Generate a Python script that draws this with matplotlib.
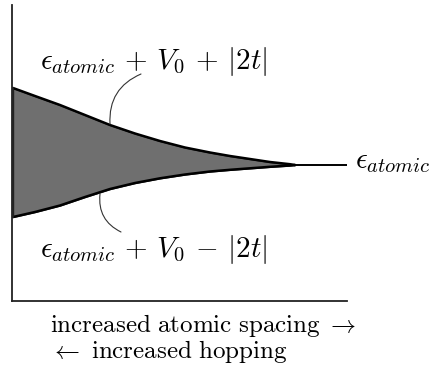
import matplotlib
matplotlib.use("Agg")
import matplotlib.pyplot as plt

plt.rcParams['mathtext.fontset'] = 'cm'

# (x: distance along axis, y: energy, arbitrary units)
x_vals = [1, 23, 48, 73, 98, 123, 148, 173, 198, 218, 238, 258, 278, 283]
upper_vals = [213, 205, 196, 186, 176, 167.5, 160, 153.5, 148.5, 145, 142, 139, 136.8, 136]
lower_vals = [84, 89, 95.5, 104, 112, 118, 122.7, 126.5, 129.5, 131.2, 132.7, 134.2, 135.5, 136]
eps_level = 136
eps_x = [283, 335]

upper_label = r'$\epsilon_{atomic}\,+\,V_0\,+\,|2t|$'
lower_label = r'$\epsilon_{atomic}\,+\,V_0\,-\,|2t|$'
right_label = r'$\epsilon_{atomic}$'
xlabel1 = r'$\mathrm{increased\ atomic\ spacing}\ \rightarrow$'
xlabel2 = r'$\leftarrow\ \mathrm{increased\ hopping}$'

W, H = 448, 372
fig = plt.figure(figsize=(W / 100, H / 100), dpi=100)
ax = fig.add_axes([12 / W, 71 / H, 335 / W, 296 / H])
ax.set_xlim(0, 335)
ax.set_ylim(0, 296)
for s in ['top', 'right']:
    ax.spines[s].set_visible(False)
for s in ['left', 'bottom']:
    ax.spines[s].set_linewidth(1.3)
    ax.spines[s].set_color('#222222')
ax.set_xticks([])
ax.set_yticks([])

ax.fill_between(x_vals, lower_vals, upper_vals, facecolor='#6f6f6f',
                edgecolor='#222222', linewidth=1.0)
ax.plot(x_vals, upper_vals, color='black', lw=1.8, solid_capstyle='round',
        solid_joinstyle='round')
ax.plot(x_vals, lower_vals, color='black', lw=1.8, solid_capstyle='round',
        solid_joinstyle='round')
ax.plot([x_vals[0], x_vals[0]], [lower_vals[0], upper_vals[0]], color='#222222', lw=1.2)
ax.plot(eps_x, [eps_level, eps_level], color='black', lw=1.4)

ax.annotate('', xy=(98, 177), xytext=(129, 227),
            arrowprops=dict(arrowstyle='-', connectionstyle='arc3,rad=0.35',
                            lw=0.8, color='#333333', shrinkA=0, shrinkB=0),
            annotation_clip=False)
ax.annotate('', xy=(88, 107), xytext=(109, 69),
            arrowprops=dict(arrowstyle='-', connectionstyle='arc3,rad=-0.35',
                            lw=0.8, color='#333333', shrinkA=0, shrinkB=0),
            annotation_clip=False)

fs = 21
fig.text(40 / W, 1 - 69 / H, upper_label, fontsize=fs, ha='left', va='baseline')
fig.text(40 / W, 1 - 257 / H, lower_label, fontsize=fs, ha='left', va='baseline')
fig.text(355 / W, 1 - 168 / H, right_label, fontsize=fs, ha='left', va='baseline')
fig.text(50 / W, 1 - 332 / H, xlabel1, fontsize=18, ha='left', va='baseline')
fig.text(50 / W, 1 - 358 / H, xlabel2, fontsize=18, ha='left', va='baseline')

fig.savefig('out.png', dpi=100)
